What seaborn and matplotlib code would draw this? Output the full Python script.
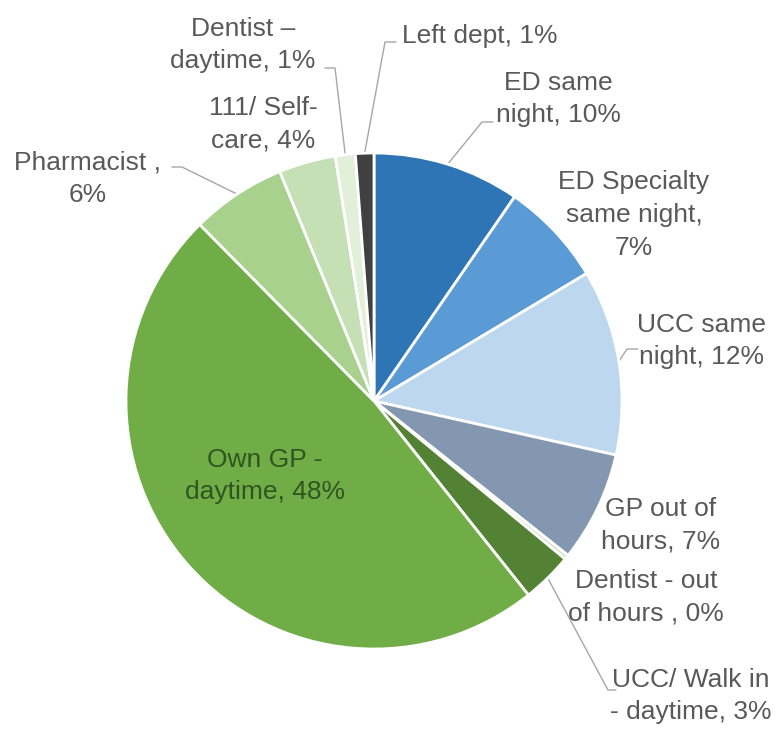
import matplotlib
matplotlib.use("Agg")
import matplotlib.pyplot as plt
import numpy as np
import seaborn as sns

# Where patients went next (share of attendances, %)
categories = [
    "ED same night", "ED Specialty same night", "UCC same night",
    "GP out of hours", "Dentist - out of hours ", "UCC/ Walk in - daytime",
    "Own GP - daytime", "Pharmacist ", "111/ Self-care",
    "Dentist \u2013 daytime", "Left dept",
]
shares = [9.6, 6.8, 12.1, 7.2, 0.3, 3.3, 48.3, 6.2, 3.7, 1.3, 1.2]

# Wrapped label text; {} receives the rounded percentage
label_text = [
    "ED same\nnight, {}%",
    "ED Specialty\nsame night,\n{}%",
    "UCC same\nnight, {}%",
    "GP out of\nhours, {}%",
    "Dentist - out\nof hours , {}%",
    "UCC/ Walk in\n- daytime, {}%",
    "Own GP -\ndaytime, {}%",
    "Pharmacist ,\n{}%",
    "111/ Self-\ncare, {}%",
    "Dentist \u2013\ndaytime, {}%",
    "Left dept, {}%",
]

colors = [
    "#2E75B6", "#5B9BD5", "#BDD7EE", "#8497B0", "#D5E3C3", "#548235",
    "#70AD47", "#A9D18E", "#C5E0B4", "#E2F0D9", "#404040",
]

sns.set_theme(style="white")
plt.rcParams["font.family"] = ["Liberation Sans", "DejaVu Sans"]

W, H, DPI = 777, 733, 100
CX, CY, R = 374, 401, 248  # pie centre and radius in pixels


def px(x, y):
    """Pixel position -> data coordinates (unit pie radius)."""
    return (x - CX) / R, (CY - y) / R


fig = plt.figure(figsize=(W / DPI, H / DPI), dpi=DPI)
ax = fig.add_axes([0, 0, 1, 1])

wedges, _ = ax.pie(
    shares, colors=colors, startangle=90, counterclock=False, radius=1.0,
    wedgeprops=dict(edgecolor="white", linewidth=2.0),
)
ax.set_xlim(-CX / R, (W - CX) / R)
ax.set_ylim(-(H - CY) / R, CY / R)
ax.set_aspect("auto")
ax.axis("off")

total = sum(shares)
pcts = [int(round(v / total * 100)) for v in shares]

# label block centres (pixels)
label_pos = [
    (558, 99), (634, 215), (701, 341), (661, 525), (646, 597), (691, 696),
    (265, 476), (88, 179), (263, 124), (243, 45), (480, 36),
]
# leader lines: elbow point and end point near the label (pixels)
leaders = {
    0: [(482, 122), (493, 122)],
    2: [(627, 349), (638, 349)],
    5: [(608, 690), (616, 690)],
    7: [(182, 167), (172, 167)],
    9: [(335, 68), (325, 68)],
    10: [(385, 42), (396, 42)],
}

for i, (w, tpl) in enumerate(zip(wedges, label_text)):
    x, y = px(*label_pos[i])
    color = "#2F5520" if i == 6 else "#595959"
    ax.text(x, y, tpl.format(pcts[i]), ha="center", va="center",
            fontsize=19, color=color, linespacing=1.45)
    if i in leaders:
        mid = np.deg2rad((w.theta1 + w.theta2) / 2)
        pts = [(np.cos(mid) * 1.0, np.sin(mid) * 1.0)] + [px(*p) for p in leaders[i]]
        xs, ys = zip(*pts)
        ax.plot(xs, ys, color="#A6A6A6", lw=1.0, zorder=0.5)

fig.savefig("out.png", dpi=DPI, facecolor="white")
